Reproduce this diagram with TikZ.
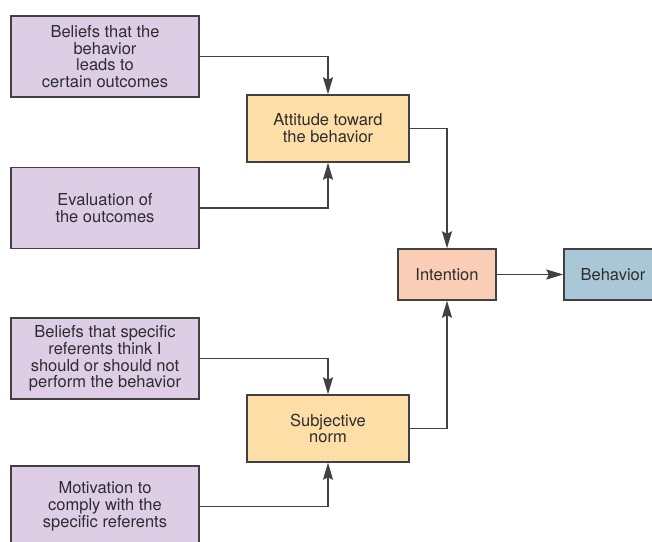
\documentclass[tikz,border=0pt]{standalone}
\usepackage{fontspec}
\setmainfont{TeX Gyre Heros}
\usetikzlibrary{arrows.meta}
\definecolor{beliefbg}{RGB}{221,206,230}
\definecolor{constructbg}{RGB}{252,222,166}
\definecolor{intentbg}{RGB}{250,206,182}
\definecolor{behavbg}{RGB}{170,199,216}
\definecolor{edge}{RGB}{65,65,65}
\definecolor{ink}{RGB}{45,45,45}
\tikzset{
  box/.style={draw=edge, line width=1.4pt, align=center, text=ink, inner sep=2pt,
    font=\fontsize{16.5}{16.8}\selectfont},
  beliefbox/.style={box, fill=beliefbg, minimum width=188pt, minimum height=81pt},
  constructbox/.style={box, fill=constructbg, minimum width=162pt, minimum height=67pt},
  smallbox/.style={box, minimum width=98pt, minimum height=51pt},
  link/.style={draw=edge, line width=1.4pt, -{Stealth[length=17pt,width=10pt,inset=2.5pt]}}
}
\begin{document}
\begin{tikzpicture}[x=1pt, y=-1pt]
\useasboundingbox (0,0) rectangle (652,541);
\clip (0,0) rectangle (652,541);
\fill[white] (0,0) rectangle (652,541);

% source beliefs
\node[beliefbox] (outcomes) at (105,56.5) {Beliefs that the\\behavior\\leads to\\certain outcomes};
\node[beliefbox] (evaluation) at (105,208) {Evaluation of\\the outcomes};
\node[beliefbox] (referents) at (105,358.5) {Beliefs that specific\\referents think I\\should or should not\\perform the behavior};
\node[beliefbox] (motivation) at (105,506.5) {Motivation to\\comply with the\\specific referents};

% intermediate constructs
\node[constructbox] (attitude) at (328,128.5) {Attitude toward\\the behavior};
\node[constructbox] (norm) at (328,428.5) {Subjective\\norm};

% intention and behavior
\node[smallbox, fill=intentbg] (intention) at (447,274.5) {Intention};
\node[smallbox, fill=behavbg] (behavior) at (613,274.5) {Behavior};

% connectors
\draw[link] (outcomes.east) -| (attitude.north);
\draw[link] (evaluation.east) -| (attitude.south);
\draw[link] (referents.east) -| (norm.north);
\draw[link] (motivation.east) -| (norm.south);
\draw[link] (attitude.east) -| (intention.north);
\draw[link] (norm.east) -| (intention.south);
\draw[link] (intention.east) -- (behavior.west);
\end{tikzpicture}
\end{document}
